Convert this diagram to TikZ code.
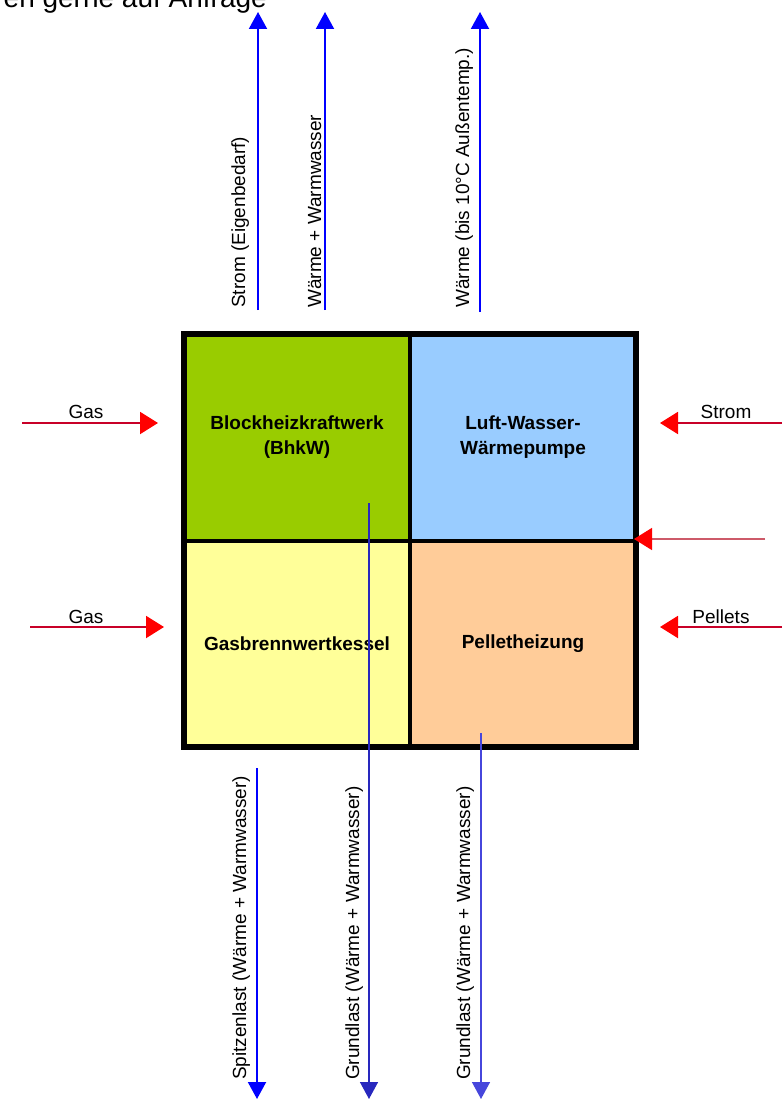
\documentclass[tikz,border=0pt]{standalone}
\usepackage{fontspec}
\setmainfont{Liberation Sans}
\usetikzlibrary{arrows.meta,positioning,calc}
\definecolor{bhkwgreen}{HTML}{99CC00}
\definecolor{wpblue}{HTML}{99CCFF}
\definecolor{gbkyellow}{HTML}{FFFF99}
\definecolor{pelletorange}{HTML}{FFCC99}
\definecolor{fuelline}{RGB}{200,0,40}

\begin{document}
\begin{tikzpicture}[
    x=1pt, y=-1pt,
    node distance=0pt,
    cell/.style={draw=black, line width=4pt, outer sep=0pt, inner sep=0pt, minimum width=226pt, minimum height=207pt, align=center, font=\fontsize{19}{25}\selectfont\bfseries},
    flowlbl/.style={inner sep=0pt, font=\fontsize{19}{22}\selectfont},
    vlbl/.style={flowlbl, rotate=90, anchor=base west},
    fuel/.style={draw=fuelline, line width=2pt, -{Triangle[width=22pt,length=18pt,color=red]}},
    heat/.style={draw=blue, line width=2pt, -{Triangle[width=18pt,length=17pt]}}
]
    \useasboundingbox (0,0) rectangle (782,1099);

    \node[anchor=base east, inner sep=0pt, font=\fontsize{28}{32}\selectfont] (note) at (267,8) {en gerne auf Anfrage};

    \node[cell, fill=bhkwgreen] (bhkw) at (297,437.5) {Blockheizkraftwerk\\(BhkW)};
    \node[cell, fill=wpblue, right=of bhkw] (wp) {Luft-Wasser-\\Wärmepumpe};
    \node[cell, fill=gbkyellow, minimum height=206pt, below=of bhkw] (gbk) {Gasbrennwertkessel};
    \node[cell, fill=pelletorange, minimum height=206pt, right=of gbk] (pellet) {Pelletheizung};
    \draw[line width=6pt] (bhkw.north west) rectangle (pellet.south east);

    \coordinate (gasAin) at (22,423);     \coordinate (gasAend) at (158,423);
    \coordinate (gasBin) at (30,627);     \coordinate (gasBend) at (164,627);
    \coordinate (stromin) at (782,423);   \coordinate (stromend) at (660,423);
    \coordinate (midin) at (765,539);     \coordinate (midend) at (634,539);
    \coordinate (pelletin) at (782,627);  \coordinate (pelletend) at (660,627);

    \draw[fuel] (gasAin) -- (gasAend);
    \draw[fuel] (gasBin) -- (gasBend);
    \draw[fuel] (stromin) -- (stromend);
    \draw[fuel, draw={rgb,255:red,205;green,90;blue,105}, line width=1.5pt] (midin) -- (midend);
    \draw[fuel] (pelletin) -- (pelletend);

    \node[flowlbl, anchor=base] (gasAlbl) at (86,418) {Gas};
    \node[flowlbl, anchor=base] (gasBlbl) at (86,623) {Gas};
    \node[flowlbl, anchor=base] (stromlbl) at (726,418) {Strom};
    \node[flowlbl, anchor=base] (pelletlbl) at (721,623) {Pellets};

    \coordinate (eigenout) at (258,310);  \coordinate (eigenend) at (258,12);
    \coordinate (bhkwup) at (325,310);    \coordinate (bhkwupend) at (325,12);
    \coordinate (wpup) at (480,312);      \coordinate (wpupend) at (480,12);
    \draw[heat] (eigenout) -- (eigenend);
    \draw[heat] (bhkwup) -- (bhkwupend);
    \draw[heat] (wpup) -- (wpupend);

    \node[vlbl] (eigenlbl) at (245,308) {Strom (Eigenbedarf)};
    \node[vlbl] (bhkwuplbl) at (321,308) {Wärme + Warmwasser};
    \node[vlbl] (wpuplbl) at (469,308) {Wärme (bis 10°C Außentemp.)};

    \coordinate (spitzeout) at (257,768); \coordinate (spitzeend) at (257,1099);
    \coordinate (grundAout) at (369,503); \coordinate (grundAend) at (369,1099);
    \coordinate (grundBout) at (481,733); \coordinate (grundBend) at (481,1099);
    \draw[heat] (spitzeout) -- (spitzeend);
    \draw[heat, draw={rgb,255:red,40;green,40;blue,190}, line width=1.5pt] (grundAout) -- (grundAend);
    \draw[heat, draw={rgb,255:red,70;green,70;blue,220}, line width=1.5pt] (grundBout) -- (grundBend);

    \node[vlbl] (spitzelbl) at (246,1080) {Spitzenlast (Wärme + Warmwasser)};
    \node[vlbl] (grundAlbl) at (359,1080) {Grundlast (Wärme + Warmwasser)};
    \node[vlbl] (grundBlbl) at (470,1080) {Grundlast (Wärme + Warmwasser)};
\end{tikzpicture}
\end{document}
